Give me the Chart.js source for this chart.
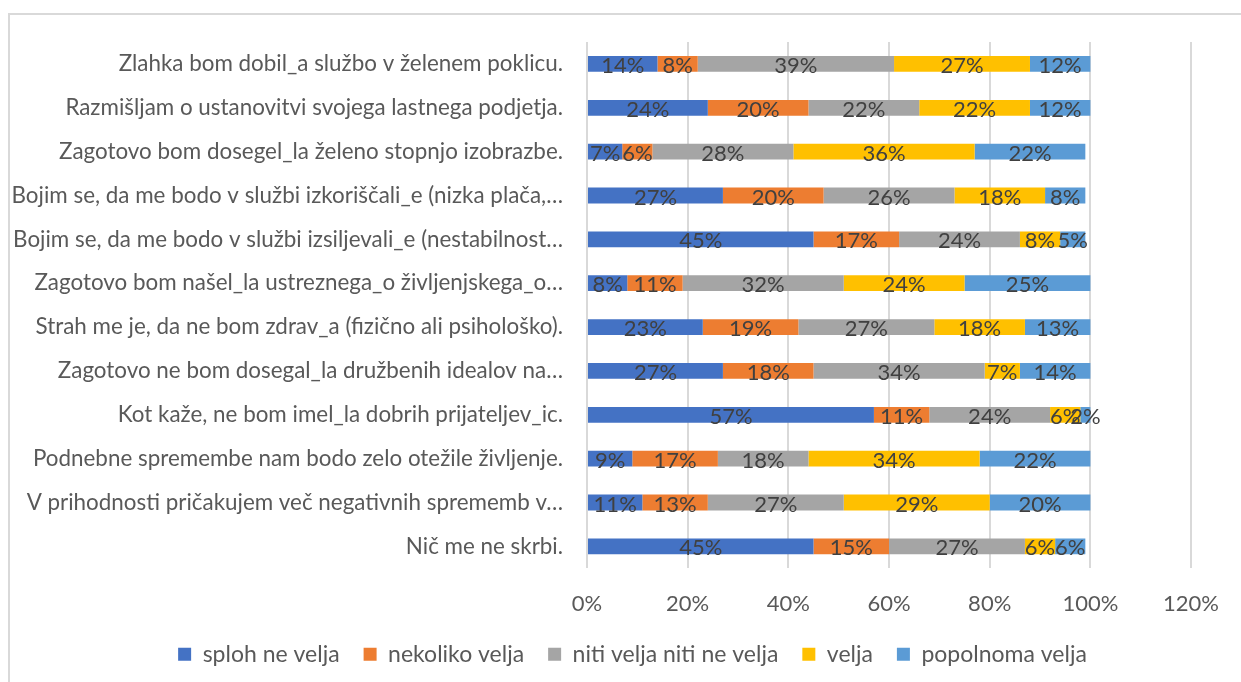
<!DOCTYPE html>
<html>
<head>
<meta charset="utf-8">
<script src="https://cdn.jsdelivr.net/npm/chart.js@4/dist/chart.umd.min.js"></script>
<style>
  html, body { margin: 0; padding: 0; background: #ffffff; }
  #wrap { position: relative; width: 1241px; height: 682px; }
</style>
</head>
<body>
<div id="wrap"><canvas id="c" width="1241" height="682"></canvas></div>
<script>
const categories = [
  "Zlahka bom dobil_a službo v želenem poklicu.",
  "Razmišljam o ustanovitvi svojega lastnega podjetja.",
  "Zagotovo bom dosegel_la želeno stopnjo izobrazbe.",
  "Bojim se, da me bodo v službi izkoriščali_e (nizka plača,…",
  "Bojim se, da me bodo v službi izsiljevali_e (nestabilnost…",
  "Zagotovo bom našel_la ustreznega_o življenjskega_o…",
  "Strah me je, da ne bom zdrav_a (fizično ali psihološko).",
  "Zagotovo ne bom dosegal_la družbenih idealov na…",
  "Kot kaže, ne bom imel_la dobrih prijateljev_ic.",
  "Podnebne spremembe nam bodo zelo otežile življenje.",
  "V prihodnosti pričakujem več negativnih sprememb v…",
  "Nič me ne skrbi."
];
const seriesNames = ["sploh ne velja", "nekoliko velja", "niti velja niti ne velja", "velja", "popolnoma velja"];
const splohNeVelja   = [14, 24, 7, 27, 45, 8, 23, 27, 57, 9, 11, 45];
const nekolikoVelja  = [8, 20, 6, 20, 17, 11, 19, 18, 11, 17, 13, 15];
const nitiVelja      = [39, 22, 28, 26, 24, 32, 27, 34, 24, 18, 27, 27];
const velja          = [27, 22, 36, 18, 8, 24, 18, 7, 6, 34, 29, 6];
const popolnomaVelja = [12, 12, 22, 8, 5, 25, 13, 14, 2, 22, 20, 6];
const tickValues = [0, 20, 40, 60, 80, 100, 120];

const colors = ["#4472C4", "#ED7D31", "#A5A5A5", "#FFC000", "#5B9BD5"];
const seriesData = [splohNeVelja, nekolikoVelja, nitiVelja, velja, popolnomaVelja];

const FONT = "Lato";
const FS_CAT = 22.4;
const FS_LEG = 23;
const FS_NUM = 22;

const frame = {
  id: "frame",
  beforeDraw(chart) {
    const ctx = chart.ctx;
    ctx.save();
    ctx.fillStyle = "#ffffff";
    ctx.fillRect(0, 0, chart.width, chart.height);
    ctx.strokeStyle = "#d9d9d9";
    ctx.lineWidth = 2;
    ctx.strokeRect(9, 14, 1300, 800);
    ctx.restore();
  }
};

const legendShift = {
  id: "legendShift",
  afterLayout(chart) {
    if (chart.legend) {
      chart.legend.left += 36;
      chart.legend.right += 36;
    }
  }
};

const barLabels = {
  id: "barLabels",
  afterDatasetsDraw(chart) {
    const ctx = chart.ctx;
    ctx.save();
    ctx.font = FS_NUM + "px " + FONT;
    ctx.fillStyle = "#404040";
    ctx.textAlign = "center";
    ctx.textBaseline = "middle";
    chart.data.datasets.forEach((ds, di) => {
      const meta = chart.getDatasetMeta(di);
      meta.data.forEach((el, i) => {
        const v = ds.data[i];
        if (!v) return;
        const p = el.getCenterPoint();
        ctx.fillText(v + "%", p.x, p.y + 2);
      });
    });
    ctx.restore();
  }
};

new Chart(document.getElementById("c"), {
  type: "bar",
  data: {
    labels: categories,
    datasets: seriesNames.map((n, k) => ({
      label: n,
      data: seriesData[k],
      backgroundColor: colors[k],
      borderWidth: 0,
      categoryPercentage: 1,
      barPercentage: 0.36
    }))
  },
  options: {
    indexAxis: "y",
    responsive: false,
    animation: false,
    layout: { padding: { left: 0, right: 48, top: 42, bottom: 6.3 } },
    scales: {
      x: {
        stacked: true,
        min: 0, max: 120,
        afterBuildTicks(scale) { scale.ticks = tickValues.map(v => ({ value: v })); },
        afterFit(scale) { scale.height = 50.4; },
        grid: { color: "#d9d9d9", lineWidth: 2, drawTicks: false },
        border: { display: false },
        ticks: {
          padding: 22,
          color: "#595959",
          font: { family: FONT, size: FS_NUM },
          callback: v => v + "%"
        }
      },
      y: {
        stacked: true,
        afterFit(scale) { scale.width = 587; },
        grid: { display: false, drawTicks: false },
        border: { display: false },
        ticks: {
          padding: 24,
          color: "#595959",
          font: { family: FONT, size: FS_CAT },
          autoSkip: false
        }
      }
    },
    plugins: {
      legend: {
        position: "bottom",
        labels: {
          boxWidth: 13, boxHeight: 13,
          padding: 24,
          color: "#595959",
          font: { family: FONT, size: FS_LEG }
        }
      },
      tooltip: { enabled: false }
    }
  },
  plugins: [frame, legendShift, barLabels]
});
</script>
</body>
</html>
